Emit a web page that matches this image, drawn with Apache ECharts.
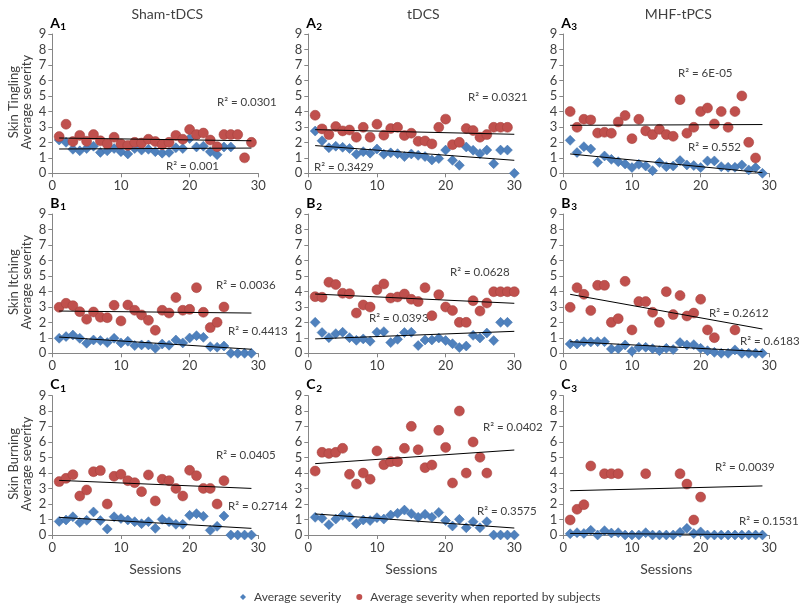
<!DOCTYPE html>
<html><head><meta charset="utf-8">
<script src="https://cdn.jsdelivr.net/npm/echarts@6/dist/echarts.min.js"></script>
<style>html,body{margin:0;padding:0;background:#fff}#c{width:800px;height:608px}</style>
</head><body><div id="c"></div>
<script>
// ---- data: values per session (index 0 = session 1), null = no point ----
const a1Avg = [2.15,2.0,1.55,1.45,1.6,1.75,1.35,1.45,1.6,1.4,1.25,1.6,1.5,1.55,1.4,1.3,1.35,1.65,1.6,2.25,1.7,1.75,1.4,1.2,1.7,1.7];
const a1Rep = [2.37,3.17,2.05,2.45,2.07,2.5,2.1,1.9,2.33,1.9,1.8,2.0,1.95,2.2,2.05,1.85,2.0,2.45,2.2,2.83,2.5,2.6,2.15,1.72,2.5,2.5,2.5,1.0,2.0];
const a2Avg = [2.73,2.1,1.65,1.75,1.68,1.6,1.23,1.4,1.3,1.57,1.23,1.32,1.27,1.08,1.25,1.16,1.08,0.86,0.95,1.5,0.84,0.52,1.7,1.49,1.27,1.5,0.62,1.5,1.5,0];
const a2Rep = [3.75,2.87,2.5,3.02,2.74,2.8,2.33,2.97,2.33,3.17,2.46,2.89,2.97,2.44,2.59,2.07,2.09,1.9,2.97,3.5,1.85,2.0,2.89,2.76,2.33,2.5,2.97,2.97,2.97];
const a3Avg = [2.13,1.34,1.72,1.57,0.71,1.12,0.9,0.75,0.6,0.37,0.58,0.47,0.17,0.69,0.43,0.47,0.82,0.54,0.5,0.37,0.8,0.8,0.43,0.39,0.39,0.54,0.22,0.37,0];
const a3Rep = [3.99,2.97,3.49,3.45,2.6,2.65,2.59,3.32,3.73,2.24,3.49,2.74,2.5,2.84,2.5,2.39,4.76,2.59,2.97,3.99,4.22,3.19,3.99,2.97,3.99,5.0,2.0,0.99];
const b1Avg = [0.97,1.08,1.18,0.97,0.65,0.86,0.82,0.69,0.97,0.67,0.78,0.5,0.54,0.54,0.32,0.6,0.52,0.86,0.67,0.99,1.14,1.03,0.43,0.39,0.47,0,0,0,0];
const b1Rep = [2.97,3.23,3.08,2.69,2.2,2.67,2.33,2.3,3.1,2.09,3.12,2.78,2.48,2.13,1.49,2.78,2.6,3.6,2.78,2.84,4.24,2.65,1.66,2.0,2.99];
const b2Avg = [2.0,1.34,1.01,1.27,1.36,1.01,0.84,0.93,0.78,1.36,1.4,0.69,0.9,1.34,1.36,0.5,0.86,0.86,0.99,0.82,0.62,0.37,0.47,1.16,0.99,1.31,0.82,2.0,2.0];
const b2Rep = [3.66,3.62,4.59,4.44,3.88,3.85,2.6,3.12,2.99,4.11,4.48,3.57,3.64,3.83,3.49,3.34,4.24,2.43,3.79,2.99,2.76,2.0,2.0,3.4,2.73,3.25,3.98,3.98,3.98,3.98];
const b3Avg = [0.6,0.6,0.75,0.73,0.75,0.75,0.28,0.3,0.54,0.13,0.39,0.39,0.3,0.17,0.32,0.24,0.69,0.54,0.56,0.32,0.17,0.06,0,0,0.22,0,0,0,0];
const b3Rep = [2.97,4.24,3.81,2.76,4.39,4.39,2.0,2.24,4.65,1.51,3.34,3.34,2.65,2.0,3.98,2.5,3.73,2.41,2.6,3.49,1.51,1.01,null,null,1.51];
const c1Avg = [0.88,0.97,1.18,0.8,0.95,1.49,0.93,0.39,1.18,1.06,0.97,0.86,0.73,0.86,0.43,1.01,0.86,0.69,0.69,1.27,1.38,1.21,0.3,0.56,1.23,0,0,0,0];
const c1Rep = [3.45,3.66,3.9,2.52,2.91,4.09,4.16,2.0,3.79,3.92,3.51,3.38,2.8,3.88,2.2,3.6,3.51,3.01,2.52,4.18,3.83,3.01,3.01,2.0,3.51];
const c2Avg = [1.14,1.08,0.67,1.03,1.27,1.16,0.73,0.97,0.93,1.12,1.03,1.29,1.4,1.61,1.38,1.14,1.34,1.14,1.46,0.93,0.58,1.01,0.47,0.86,0.47,0.86,0,0,0,0];
const c2Rep = [4.13,5.34,5.27,5.34,5.6,3.92,3.29,4.0,3.6,5.43,4.54,4.74,4.74,5.6,7.02,5.51,4.35,4.52,6.76,5.66,3.36,8.01,4.0,6.01,5.02,4.0];
const c3Avg = [0.08,0.15,0.1,0.3,0,0.28,0.13,0.15,0,0,0,0.15,0,0,0,0,0.17,0.43,0.09,0.2,0,0,0,0,0,0,0,0,0];
const c3Rep = [0.97,1.66,1.96,4.46,null,3.96,3.96,3.96,null,null,null,3.96,null,null,null,null,3.96,3.29,0.97,2.45];

// ---- linear trend lines: [session, value] endpoints ----
const a1AvgTrend = [[1,1.57],[29,1.63]], a1RepTrend = [[1,2.28],[29,2.1]];
const a2AvgTrend = [[1,1.79],[30,0.84]], a2RepTrend = [[1,2.82],[30,2.52]];
const a3AvgTrend = [[1,1.25],[29,0.04]], a3RepTrend = [[1,3.1],[29,3.15]];
const b1AvgTrend = [[1,1.05],[29,0.26]], b1RepTrend = [[1,2.73],[29,2.6]];
const b2AvgTrend = [[1,0.93],[30,1.42]], b2RepTrend = [[1,3.83],[30,3.23]];
const b3AvgTrend = [[1,0.75],[29,0.11]], b3RepTrend = [[1,3.81],[29,1.57]];
const c1AvgTrend = [[1,1.14],[29,0.43]], c1RepTrend = [[1,3.53],[29,3.01]];
const c2AvgTrend = [[1,1.36],[30,0.45]], c2RepTrend = [[1,4.61],[30,5.49]];
const c3AvgTrend = [[1,0.1],[29,0.02]], c3RepTrend = [[1,2.86],[29,3.17]];

const r2Labels = [["0.0301","0.001"],["0.0321","0.3429"],["6E-05","0.552"],
                  ["0.0036","0.4413"],["0.0628","0.0393"],["0.2612","0.6183"],
                  ["0.0405","0.2714"],["0.0402","0.3575"],["0.0039","0.1531"]];
const columnTitles = ["Sham-tDCS","tDCS","MHF-tPCS"];
const rowNames = ["Skin Tingling","Skin Itching","Skin Burning"];
const rowLetters = ["A","B","C"];
const seriesNames = ["Average severity","Average severity when reported by subjects"];

const panels = [
  [a1Avg,a1Rep,a1AvgTrend,a1RepTrend],[a2Avg,a2Rep,a2AvgTrend,a2RepTrend],[a3Avg,a3Rep,a3AvgTrend,a3RepTrend],
  [b1Avg,b1Rep,b1AvgTrend,b1RepTrend],[b2Avg,b2Rep,b2AvgTrend,b2RepTrend],[b3Avg,b3Rep,b3AvgTrend,b3RepTrend],
  [c1Avg,c1Rep,c1AvgTrend,c1RepTrend],[c2Avg,c2Rep,c2AvgTrend,c2RepTrend],[c3Avg,c3Rep,c3AvgTrend,c3RepTrend]
];

// ---- layout ----
const colLeft = [52.3, 308.3, 563.3], colWidth = 206;
const rowTop = [34, 214, 395.7], rowHeight = 139.3;
const r2Pos = [[[217,102],[166,166]],[[468,97],[314,167]],[[678,73],[688,147]],
               [[216,285],[228,331]],[[450,272],[369,318]],[[709,313],[740,341]],
               [[216,455],[228,506]],[[483,427],[477,511]],[[715,467],[739,521]]];
const FONT = 'Lato';
const TXT = '#404040';
const AX = '#868686';
const BLUE = '#4F81BD', RED = '#C0504D';

function pts(arr){ const o=[]; arr.forEach((v,i)=>{ if(v!==null && v!==undefined) o.push([i+1,v]); }); return o; }

const grid=[], xAxis=[], yAxis=[], series=[], graphic=[];
for(let i=0;i<9;i++){
  const r=Math.floor(i/3), c=i%3;
  grid.push({left:colLeft[c], top:rowTop[r], width:colWidth, height:rowHeight});
  xAxis.push({gridIndex:i, type:'value', min:0, max:30, interval:10,
    axisLine:{show:true, onZero:false, lineStyle:{color:AX, width:1}},
    axisTick:{show:true, length:4, lineStyle:{color:AX}},
    axisLabel:{color:TXT, fontSize:13, fontFamily:FONT, margin:6},
    splitLine:{show:false}});
  yAxis.push({gridIndex:i, type:'value', min:0, max:9, interval:1,
    axisLine:{show:true, lineStyle:{color:AX, width:1}},
    axisTick:{show:true, length:4, lineStyle:{color:AX}},
    axisLabel:{color:TXT, fontSize:13, fontFamily:FONT, margin:6},
    splitLine:{show:false}});
  const p = panels[i];
  series.push({type:'scatter', name:seriesNames[0], xAxisIndex:i, yAxisIndex:i, symbol:'diamond', symbolSize:10,
    itemStyle:{color:BLUE, borderColor:'#3f6fa8', borderWidth:0.5, opacity:1}, data:pts(p[0]), z:2});
  series.push({type:'scatter', name:seriesNames[1], xAxisIndex:i, yAxisIndex:i, symbol:'circle', symbolSize:10,
    itemStyle:{color:RED, borderColor:'#a0403d', borderWidth:0.5, opacity:1}, data:pts(p[1]), z:2});
  series.push({type:'line', name:'trendAvg'+i, xAxisIndex:i, yAxisIndex:i, data:p[2], symbol:'none', silent:true,
    lineStyle:{color:'#000', width:1}, z:4});
  series.push({type:'line', name:'trendRep'+i, xAxisIndex:i, yAxisIndex:i, data:p[3], symbol:'none', silent:true,
    lineStyle:{color:'#000', width:1}, z:4});
  for(let k=0;k<2;k++){
    graphic.push({type:'text', x:r2Pos[i][k][0], y:r2Pos[i][k][1],
      style:{text:'R\u00B2 = '+r2Labels[i][k], fontSize:11.5, fontFamily:FONT, fill:TXT, align:'left', verticalAlign:'middle'}});
  }
  const lx = colLeft[c] - 2, ly = rowTop[r] - 11;
  graphic.push({type:'text', x:lx, y:ly, style:{text:rowLetters[r], fontSize:14, fontWeight:'bold', fontFamily:FONT, fill:'#000', align:'left', verticalAlign:'middle'}});
  graphic.push({type:'text', x:lx+10, y:ly+4, style:{text:String(c+1), fontSize:10, fontWeight:'bold', fontFamily:FONT, fill:'#000', align:'left', verticalAlign:'middle'}});
}
columnTitles.forEach((t,c)=>{
  graphic.push({type:'text', x:colLeft[c]+colWidth/2+12, y:14, style:{text:t, fontSize:14, fontFamily:FONT, fill:TXT, align:'center', verticalAlign:'middle'}});
  graphic.push({type:'text', x:colLeft[c]+colWidth/2, y:569, style:{text:'Sessions', fontSize:14, fontFamily:FONT, fill:TXT, align:'center', verticalAlign:'middle'}});
});
rowNames.forEach((t,r)=>{
  const cy = rowTop[r] + rowHeight/2 - 1.5;
  graphic.push({type:'text', x:14, y:cy, rotation:Math.PI/2, style:{text:t, fontSize:13, fontFamily:FONT, fill:TXT, align:'center', verticalAlign:'middle'}});
  graphic.push({type:'text', x:27, y:cy, rotation:Math.PI/2, style:{text:'Average severity', fontSize:13, fontFamily:FONT, fill:TXT, align:'center', verticalAlign:'middle'}});
});

const chart = echarts.init(document.getElementById('c'), null, {renderer:'canvas'});
chart.setOption({
  animation:false,
  backgroundColor:'#fff',
  grid, xAxis, yAxis, series, graphic,
  legend:{data:[{name:seriesNames[0], icon:'diamond'},{name:seriesNames[1], icon:'circle'}],
    left:235, top:586, itemWidth:6, itemHeight:6, itemGap:15, itemStyle:{borderWidth:0},
    textStyle:{fontSize:12, color:TXT, fontFamily:FONT, padding:[0,0,0,3]}}
});
</script>
</body></html>
